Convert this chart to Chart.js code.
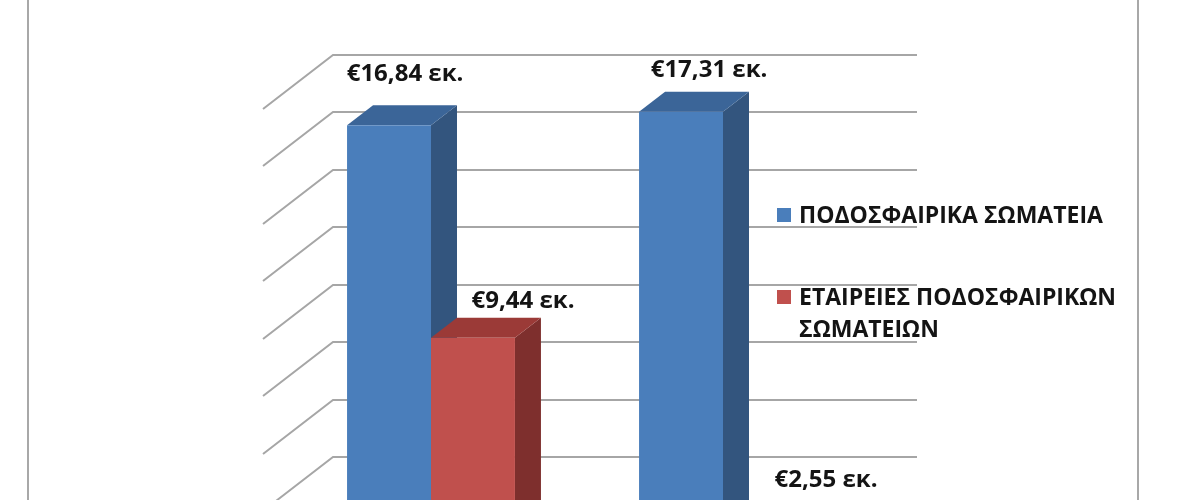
<!DOCTYPE html>
<html>
<head>
<meta charset="utf-8">
<script src="https://cdn.jsdelivr.net/npm/chart.js@4.4.0/dist/chart.umd.min.js"></script>
<style>
  html, body { margin: 0; padding: 0; background: #fff; overflow: hidden; }
  #wrap { position: relative; width: 1200px; height: 500px; overflow: hidden; }
  #frame { position: absolute; left: 27px; top: -10px; width: 1108px; height: 800px;
           border-left: 2px solid #a8a8a8; border-right: 2px solid #a8a8a8; }
  canvas { position: absolute; left: 0; top: 0; }
</style>
</head>
<body>
<div id="wrap">
  <div id="frame"></div>
  <canvas id="myChart" width="1200" height="700"></canvas>
</div>
<script>
// data (the bottom of the original chart, with the category names, is cut off)
const categories = ['Α', 'Β'];
const seriesNames = ['ΠΟΔΟΣΦΑΙΡΙΚΑ ΣΩΜΑΤΕΙΑ', 'ΕΤΑΙΡΕΙΕΣ ΠΟΔΟΣΦΑΙΡΙΚΩΝ ΣΩΜΑΤΕΙΩΝ'];
const clubs = [16.84, 17.31];
const companies = [9.44, 2.55];

// fake 3d: offsets of back wall, floor and bar depth (px)
const DEPTH = { wallX: 48, wallY: 37, floorX: 70, floorY: 54, barX: 26, barY: 20 };
// hand placed value labels, [dx, dy] per dataset / category
const labelNudge = [[[3, -24], [15, -15]], [[37, -10], [48, -29]]];

const fmt = v => '€' + v.toFixed(2).replace('.', ',') + ' εκ.';

const threeD = {
  id: 'threeD',
  beforeDatasetsDraw(chart) {
    const { ctx, chartArea, scales: { y } } = chart;
    ctx.save();
    // back wall + side wall grid
    ctx.strokeStyle = '#a6a6a6';
    ctx.lineWidth = 2;
    y.ticks.forEach(t => {
      const py = Math.round(y.getPixelForValue(t.value) - DEPTH.wallY);
      const x0 = chartArea.left + DEPTH.wallX;
      const x1 = chartArea.right + DEPTH.wallX;
      ctx.beginPath();
      ctx.moveTo(x0 - DEPTH.floorX, py + DEPTH.floorY);
      ctx.lineTo(x0, py);
      ctx.lineTo(x1, py);
      ctx.stroke();
    });

    // boxes, left to right so the next front face hides the previous side
    categories.forEach((c, j) => {
      chart.data.datasets.forEach((ds, i) => {
        const bar = chart.getDatasetMeta(i).data[j];
        const { x, y: top, base, width } = bar.getProps(['x', 'y', 'base', 'width'], true);
        const l = x - width / 2, r = x + width / 2;
        const dx = DEPTH.barX, dy = DEPTH.barY;

        ctx.fillStyle = ds.sideColor;
        ctx.beginPath();
        ctx.moveTo(r, top); ctx.lineTo(r + dx, top - dy);
        ctx.lineTo(r + dx, base - dy); ctx.lineTo(r, base);
        ctx.closePath(); ctx.fill();

        ctx.fillStyle = ds.topColor;
        ctx.beginPath();
        ctx.moveTo(l, top); ctx.lineTo(l + dx, top - dy);
        ctx.lineTo(r + dx, top - dy); ctx.lineTo(r, top);
        ctx.closePath(); ctx.fill();

        ctx.fillStyle = ds.backgroundColor;
        ctx.fillRect(l, top, width, base - top);
      });
    });
    ctx.restore();
    return false;
  },
  afterDraw(chart) {
    const { ctx } = chart;
    ctx.save();
    ctx.fillStyle = '#141414';
    ctx.textBaseline = 'alphabetic';

    // value labels
    ctx.font = 'bold 24px "Open Sans"';
    ctx.textAlign = 'center';
    chart.data.datasets.forEach((ds, i) => {
      chart.getDatasetMeta(i).data.forEach((bar, j) => {
        const [nx, ny] = labelNudge[i][j];
        ctx.fillText(fmt(ds.data[j]), bar.x + DEPTH.barX / 2 + nx, bar.y - DEPTH.barY + ny);
      });
    });

    // legend
    ctx.font = 'bold 23px "Open Sans"';
    ctx.textAlign = 'left';
    let ly = 223;
    chart.data.datasets.forEach(ds => {
      const words = ds.label.split(' ');
      const lines = [];
      let cur = '';
      words.forEach(w => {
        const t = cur ? cur + ' ' + w : w;
        if (cur && ctx.measureText(t).width > 340) { lines.push(cur); cur = w; }
        else cur = t;
      });
      lines.push(cur);
      ctx.fillStyle = ds.backgroundColor;
      ctx.fillRect(777, ly - 15, 14, 14);
      ctx.fillStyle = '#141414';
      lines.forEach((ln, k) => ctx.fillText(ln, 799, ly + k * 32));
      ly += 82;
    });
    ctx.restore();
  }
};

const ctx = document.getElementById('myChart');
new Chart(ctx, {
  type: 'bar',
  data: {
    labels: categories,
    datasets: [{
      label: seriesNames[0],
      data: clubs,
      backgroundColor: '#4a7ebb',
      topColor: '#3b6598',
      sideColor: '#33557e'
    }, {
      label: seriesNames[1],
      data: companies,
      backgroundColor: '#c0504d',
      topColor: '#9b3a37',
      sideColor: '#7e2f2d'
    }]
  },
  options: {
    responsive: false,
    animation: false,
    devicePixelRatio: 1,
    layout: { padding: { left: 285, right: 331, top: 92, bottom: 91 } },
    datasets: { bar: { categoryPercentage: 0.575, barPercentage: 1 } },
    scales: {
      x: { display: false },
      y: { display: false, min: 0, max: 18, ticks: { stepSize: 2 } }
    },
    plugins: { legend: { display: false }, tooltip: { enabled: false } }
  },
  plugins: [threeD]
});
</script>
</body>
</html>
